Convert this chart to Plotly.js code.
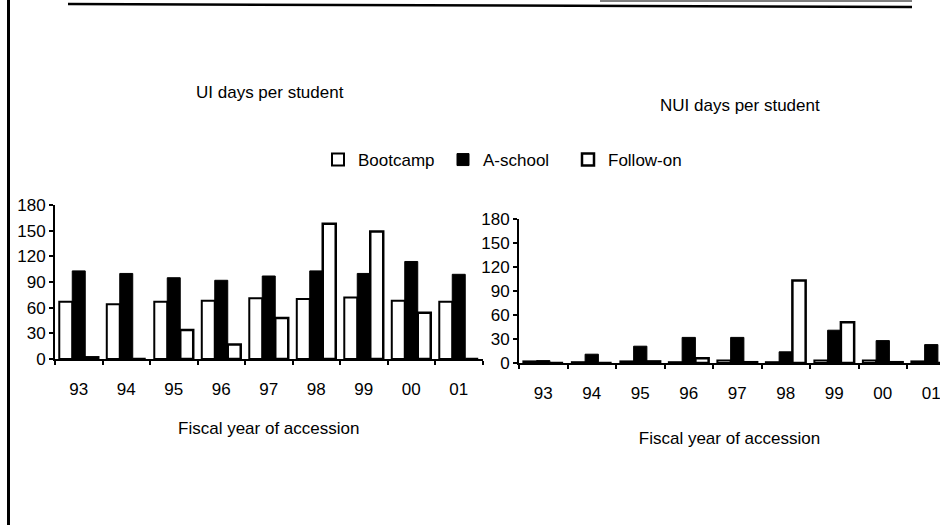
<!DOCTYPE html>
<html>
<head>
<meta charset="utf-8">
<script src="https://cdn.plot.ly/plotly-3.0.1.min.js"></script>
<style>html,body{margin:0;padding:0;background:#fff;}#chart{width:940px;height:531px;}</style>
</head>
<body>
<div id="chart"></div>
<script>
// ---- data ----
const categories = ['93','94','95','96','97','98','99','00','01'];
const seriesNames = ['Bootcamp','A-school','Follow-on'];
const uiBootcamp  = [67, 64, 67, 68, 71, 70, 72, 68, 67];
const uiASchool   = [103, 100, 95, 92, 97, 103, 100, 114, 99];
const uiFollowOn  = [2, 0, 34, 17, 48, 158, 149, 54, 0];
const nuiBootcamp = [2, 1, 2, 1, 3, 1, 3, 3, 2];
const nuiASchool  = [3, 11, 21, 32, 32, 14, 41, 28, 23];
const nuiFollowOn = [0, 0, 2, 6, 1, 103, 51, 1, 0];
const yTicks = [0, 30, 60, 90, 120, 150, 180];
const leftTitle = 'UI days per student';
const rightTitle = 'NUI days per student';
const xTitle = 'Fiscal year of accession';

// ---- helpers ----
const W = 940, H = 531;
const px = x => x / W;
const py = y => 1 - y / H;
const FONT = 'Liberation Sans, Arial, sans-serif';

const styles = [
  {color: '#ffffff', line: {color: '#000', width: 2}},
  {color: '#000000', line: {color: '#000', width: 1}},
  {color: '#ffffff', line: {color: '#000', width: 2.5}}
];

function mk(name, y, i, xa, ya, show) {
  return {type: 'bar', name: name, x: categories, y: y, xaxis: xa, yaxis: ya,
          marker: styles[i], showlegend: show, legendgroup: name, hoverinfo: 'x+y+name'};
}

const data = [
  mk(seriesNames[0], uiBootcamp, 0, 'x', 'y', true),
  mk(seriesNames[1], uiASchool, 1, 'x', 'y', true),
  mk(seriesNames[2], uiFollowOn, 2, 'x', 'y', true),
  mk(seriesNames[0], nuiBootcamp, 0, 'x2', 'y2', false),
  mk(seriesNames[1], nuiASchool, 1, 'x2', 'y2', false),
  mk(seriesNames[2], nuiFollowOn, 2, 'x2', 'y2', false)
];

const xBase = {type: 'category', showline: true, linecolor: '#000', linewidth: 2,
  ticks: 'outside', tickson: 'boundaries', ticklen: 4, tickwidth: 2, tickcolor: '#000',
  showgrid: false, zeroline: false, fixedrange: true,
  tickfont: {family: FONT, size: 17, color: '#000'}, ticklabelstandoff: 14};
const yBase = {range: [0, 180], tickvals: yTicks, showline: true, linecolor: '#000', linewidth: 2,
  ticks: 'outside', ticklen: 4, tickwidth: 2, tickcolor: '#000',
  showgrid: false, zeroline: false, fixedrange: true,
  tickfont: {family: FONT, size: 17, color: '#000'}};

const layout = {
  width: W, height: H,
  margin: {l: 0, r: 0, t: 0, b: 0, pad: 0},
  paper_bgcolor: '#fff', plot_bgcolor: '#fff',
  font: {family: FONT, size: 17, color: '#000'},
  barmode: 'group', bargap: 0.18, bargroupgap: 0,
  xaxis: Object.assign({}, xBase, {domain: [px(55), px(482.5)], range: [-0.5, 8.5], anchor: 'y',
    title: {text: xTitle, standoff: 24, font: {family: FONT, size: 17, color: '#000'}}}),
  yaxis: Object.assign({}, yBase, {domain: [py(359), py(205)], anchor: 'x'}),
  xaxis2: Object.assign({}, xBase, {domain: [px(519), 1], range: [-0.5, 8.18], anchor: 'y2',
    title: {text: xTitle, standoff: 30, font: {family: FONT, size: 17, color: '#000'}}}),
  yaxis2: Object.assign({}, yBase, {domain: [py(363), py(219)], anchor: 'x2'}),
  legend: {orientation: 'h', x: px(318), xanchor: 'left', y: py(160), yanchor: 'middle',
    font: {family: FONT, size: 17, color: '#000'}, entrywidth: 80, bgcolor: 'rgba(0,0,0,0)',
    traceorder: 'normal'},
  annotations: [
    {text: leftTitle, xref: 'paper', yref: 'paper', x: px(270), y: py(92), xanchor: 'center', yanchor: 'middle',
     showarrow: false, font: {family: FONT, size: 17, color: '#000'}},
    {text: rightTitle, xref: 'paper', yref: 'paper', x: px(740), y: py(105), xanchor: 'center', yanchor: 'middle',
     showarrow: false, font: {family: FONT, size: 17, color: '#000'}}
  ],
  shapes: [
    {type: 'line', xref: 'paper', yref: 'paper', x0: px(8.5), x1: px(8.5), y0: py(0), y1: py(525),
     line: {color: '#000', width: 3}},
    {type: 'line', xref: 'paper', yref: 'paper', x0: px(68), x1: px(912), y0: py(4), y1: py(7),
     line: {color: '#000', width: 2.5}},
    {type: 'line', xref: 'paper', yref: 'paper', x0: px(600), x1: px(912), y0: py(1), y1: py(1),
     line: {color: '#555', width: 1.5}}
  ]
};

Plotly.newPlot('chart', data, layout, {displayModeBar: false, staticPlot: true});
</script>
</body>
</html>
